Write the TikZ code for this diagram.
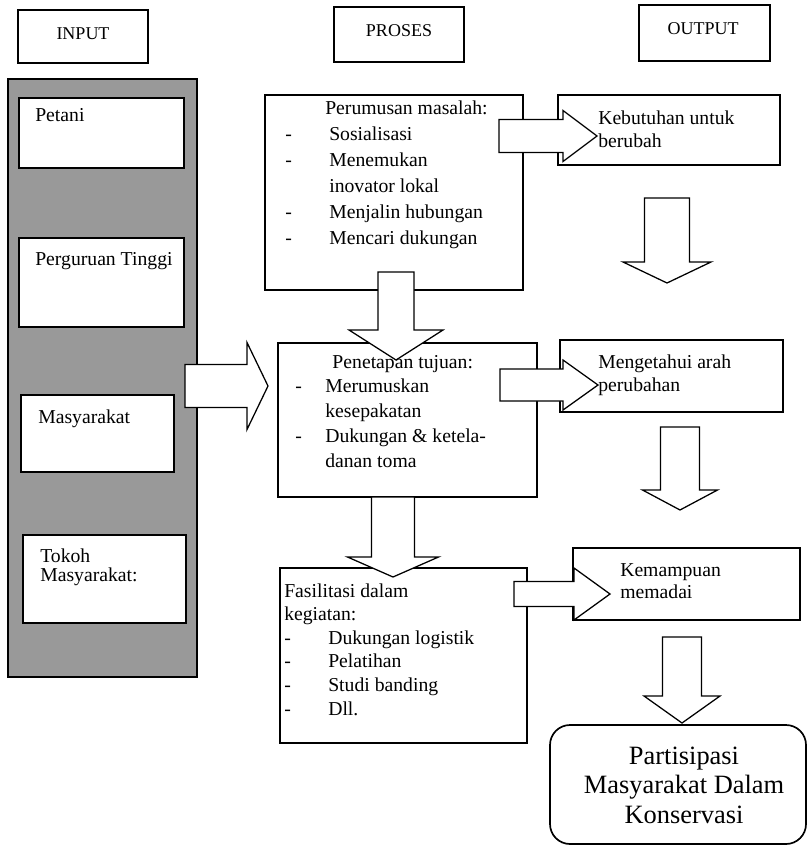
\documentclass[tikz,border=0pt]{standalone}
\usepackage{fontspec}
\setmainfont{Liberation Serif}
\usetikzlibrary{fit}

\newcommand{\dsh}[1]{\makebox[#1][l]{-}}
\newcommand{\blockright}[6]{\draw[blk] (#1,#4-#5) -- (#2,#4-#5) -- (#2,#4-#6) -- (#3,#4) -- (#2,#4+#6) -- (#2,#4+#5) -- (#1,#4+#5) -- cycle;}
\newcommand{\blockdown}[6]{\draw[blk] (#4-#5,#1) -- (#4-#5,#2) -- (#4-#6,#2) -- (#4,#3) -- (#4+#6,#2) -- (#4+#5,#2) -- (#4+#5,#1) -- cycle;}

\begin{document}
\begin{tikzpicture}[x=0.025cm, y=-0.025cm,
  box/.style={draw, line width=1.2pt, inner sep=0pt},
  blk/.style={draw, line width=0.9pt, fill=white},
  hd/.style={anchor=base, inner sep=0pt, font=\fontsize{12.8}{15}\selectfont},
  tx/.style={anchor=base west, inner sep=0pt, font=\fontsize{14}{#1}\selectfont}]
  \useasboundingbox (0,0) rectangle (811,846);

  \node[box, fit={(18,10) (148,63)}] (hin) {};
  \node[box, fit={(334,7) (464,62)}] (hpr) {};
  \node[box, fit={(639,5) (770,61)}] (hout) {};
  \node[hd] (hint) at (83,40) {INPUT};
  \node[hd] (hprt) at (399,37) {PROSES};
  \node[hd] (houtt) at (703,35) {OUTPUT};

  \node[box, fill=black!40, fit={(8,79) (197,677)}] (panel) {};
  \node[box, fill=white, fit={(19,98) (184,168)}] (i1) {};
  \node[box, fill=white, fit={(19,238) (184,327)}] (i2) {};
  \node[box, fill=white, fit={(21,395) (174,472)}] (i3) {};
  \node[box, fill=white, fit={(23,535) (186,623)}] (i4) {};

  \node[box, fit={(265,95) (523,290)}] (p1) {};
  \node[box, fit={(278,343) (537,497)}] (p2) {};
  \node[box, fit={(280,568) (527,743)}] (p3) {};

  \node[box, fit={(558,95) (780,165)}] (o1) {};
  \node[box, fit={(560,340) (783,412)}] (o2) {};
  \node[box, fit={(573,548) (800,620)}] (o3) {};
  \node[box, rounded corners=0.5cm, fit={(550,725) (806,844)}] (fin) {};

  \blockright{185}{247}{268}{386}{21.5}{43.5}
  \blockright{499}{563}{597}{136}{16.5}{25.5}
  \blockright{500}{563}{598}{385}{16}{25}
  \blockright{514}{574}{610}{594}{12.5}{26}
  \blockdown{272}{330}{360}{396}{18}{47}
  \blockdown{497}{557}{577}{393}{21.5}{45.5}
  \blockdown{198}{262}{283}{667}{22.5}{44}
  \blockdown{427}{490}{510}{680}{19.5}{37.5}
  \blockdown{637}{696}{723}{682}{19.5}{38}

  \node[tx=16] (i1t) at (35,122) {Petani};
  \node[tx=16] (i2t) at (35,265) {Perguruan Tinggi};
  \node[tx=16] (i3t) at (38,423) {Masyarakat};
  \node[tx=13.8] (i4t) at (40,562) {\begin{tabular}[t]{@{}l@{}}Tokoh\\Masyarakat:\end{tabular}};

  \node[tx=18.4] (p1t) at (285,115) {\begin{tabular}[t]{@{}l@{}}
    \hspace*{1cm}Perumusan masalah:\\
    \dsh{1.1cm}Sosialisasi\\
    \dsh{1.1cm}Menemukan\\
    \hspace*{1.1cm}inovator lokal\\
    \dsh{1.1cm}Menjalin hubungan\\
    \dsh{1.1cm}Mencari dukungan
  \end{tabular}};
  \node[tx=17.6] (p2t) at (295,368) {\begin{tabular}[t]{@{}l@{}}
    \hspace*{0.93cm}Penetapan tujuan:\\
    \dsh{0.75cm}Merumuskan\\
    \hspace*{0.75cm}kesepakatan\\
    \dsh{0.75cm}Dukungan \& ketela-\\
    \hspace*{0.75cm}danan toma
  \end{tabular}};
  \node[tx=16.8] (p3t) at (284,597) {\begin{tabular}[t]{@{}l@{}}
    Fasilitasi dalam\\
    kegiatan:\\
    \dsh{1.1cm}Dukungan logistik\\
    \dsh{1.1cm}Pelatihan\\
    \dsh{1.1cm}Studi banding\\
    \dsh{1.1cm}Dll.
  \end{tabular}};

  \node[tx=16.2] (o1t) at (598,125) {\begin{tabular}[t]{@{}l@{}}Kebutuhan untuk\\berubah\end{tabular}};
  \node[tx=16.8] (o2t) at (598,368) {\begin{tabular}[t]{@{}l@{}}Mengetahui arah\\perubahan\end{tabular}};
  \node[tx=16.2] (o3t) at (620,576) {\begin{tabular}[t]{@{}l@{}}Kemampuan\\memadai\end{tabular}};

  \node[anchor=base, inner sep=0pt, font=\fontsize{18.8}{21.3}\selectfont] (fint) at (684,764)
    {\begin{tabular}[t]{@{}c@{}}Partisipasi\\Masyarakat Dalam\\Konservasi\end{tabular}};
\end{tikzpicture}
\end{document}
